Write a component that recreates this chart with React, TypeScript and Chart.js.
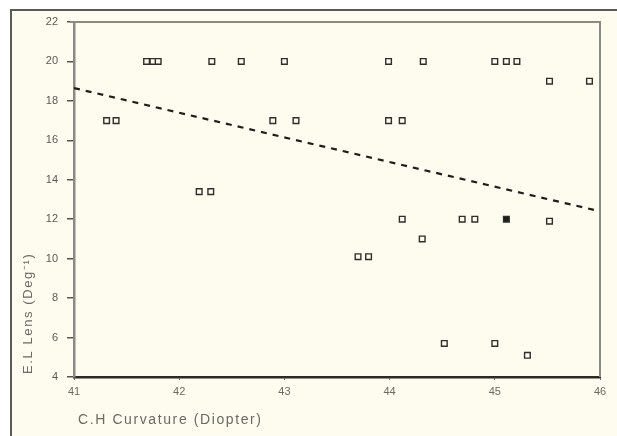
import React, { useEffect, useRef } from "react";
import { Chart, registerables } from "chart.js";

Chart.register(...registerables);

// Observed points: C.H curvature (diopter) vs lens value
const curvature = [
  41.69, 41.75, 41.8, 42.31, 42.59, 43.0, 43.99, 44.32, 45.0, 45.11, 45.21,
  45.52, 45.9,
  41.31, 41.4, 42.89, 43.11, 43.99, 44.12,
  42.19, 42.3,
  44.12, 44.69, 44.81, 45.11,
  45.52,
  44.31,
  43.7, 43.8,
  44.52, 45.0,
  45.31,
];
const lensValue = [
  20, 20, 20, 20, 20, 20, 20, 20, 20, 20, 20,
  19, 19,
  17, 17, 17, 17, 17, 17,
  13.4, 13.4,
  12, 12, 12, 12,
  11.9,
  11,
  10.1, 10.1,
  5.7, 5.7,
  5.1,
];
const filledFlags = [
  0, 0, 0, 0, 0, 0, 0, 0, 0, 0, 0,
  0, 0,
  0, 0, 0, 0, 0, 0,
  0, 0,
  0, 0, 0, 1,
  0,
  0,
  0, 0,
  0, 0,
  0,
];

// Regression (dashed) line endpoints
const trendX = [41, 46];
const trendY = [18.65, 12.4];

const xTicks = [41, 42, 43, 44, 45, 46];
const yTicks = [4, 6, 8, 10, 12, 14, 16, 18, 20, 22];

const xTitle = "C.H Curvature (Diopter)";
const yTitle = "E.L Lens (Deg\u207B\u00B9)";

const CREAM = "#fefcef";

export default function App() {
  const ref = useRef<HTMLCanvasElement | null>(null);

  useEffect(() => {
    document.body.style.margin = "0";
    const canvas = ref.current;
    if (!canvas) return;

    const framePlugin = {
      id: "framePlugin",
      afterDraw(chart: any) {
        const { ctx, chartArea } = chart;
        const { left, right, top, bottom } = chartArea;
        ctx.save();
        // top and right plot borders
        ctx.strokeStyle = "#8a8a86";
        ctx.lineWidth = 2;
        ctx.beginPath();
        ctx.moveTo(left - 4, top);
        ctx.lineTo(right, top);
        ctx.lineTo(right, bottom);
        ctx.stroke();
        // titles
        ctx.fillStyle = "#6a6a66";
        try { (ctx as any).letterSpacing = "1.6px"; } catch (e) {}
        ctx.font = "14px 'Liberation Sans', Arial, sans-serif";
        ctx.textAlign = "left";
        ctx.textBaseline = "middle";
        ctx.fillText(xTitle, left + 4, 420);
        ctx.translate(28, bottom - 3);
        ctx.rotate(-Math.PI / 2);
        ctx.font = "13px 'Liberation Sans', Arial, sans-serif";
        ctx.fillText(yTitle, 0, 0);
        ctx.restore();
      },
    };

    const pointData = curvature.map((x, i) => ({ x, y: lensValue[i] }));

    const chart = new Chart(canvas, {
      type: "scatter",
      data: {
        datasets: [
          {
            type: "line",
            data: trendX.map((x, i) => ({ x, y: trendY[i] })),
            borderColor: "#1e1e1e",
            borderWidth: 2.2,
            borderDash: [6, 6],
            pointRadius: 0,
            fill: false,
          } as any,
          {
            data: pointData,
            pointStyle: "rect",
            pointRadius: 4,
            borderWidth: 1.4,
            pointBorderColor: "#2e2e2c",
            pointBackgroundColor: filledFlags.map((f) => (f ? "#1e1e1e" : CREAM)),
          } as any,
        ],
      },
      options: {
        animation: false,
        responsive: false,
        maintainAspectRatio: false,
        layout: { padding: { left: 0, right: 17, top: 22, bottom: 0 } },
        plugins: {
          legend: { display: false },
          tooltip: { enabled: false },
          title: { display: false },
        },
        scales: {
          x: {
            type: "linear",
            min: 41,
            max: 46,
            afterFit: (s: any) => {
              s.height = 59;
            },
            afterBuildTicks: (s: any) => {
              s.ticks = xTicks.map((v) => ({ value: v }));
            },
            border: { display: true, color: "#2a2a28", width: 2.5 },
            grid: {
              drawOnChartArea: false,
              drawTicks: true,
              tickLength: 3,
              color: "#666",
            },
            ticks: {
              color: "#6a6a66",
              padding: 5,
              font: { family: "'Liberation Sans', Arial, sans-serif", size: 11 },
            },
          },
          y: {
            type: "linear",
            min: 4,
            max: 22,
            afterFit: (s: any) => {
              s.width = 74;
            },
            afterBuildTicks: (s: any) => {
              s.ticks = yTicks.map((v) => ({ value: v }));
            },
            border: { display: true, color: "#8a8a86", width: 2.5 },
            grid: {
              drawOnChartArea: false,
              drawTicks: true,
              tickLength: 7,
              color: "#555",
              lineWidth: 1.5,
            },
            ticks: {
              color: "#5a5a56",
              padding: 9,
              font: { family: "'Liberation Sans', Arial, sans-serif", size: 11 },
            },
          },
        },
      },
      plugins: [framePlugin],
    } as any);

    return () => {
      chart.destroy();
    };
  }, []);

  return (
    <div style={{ position: "relative", width: 617, height: 436, background: "#ffffff", overflow: "hidden" }}>
      <div
        style={{
          position: "absolute",
          left: 10,
          top: 9,
          width: 617,
          height: 436,
          background: CREAM,
          borderTop: "2px solid #5a5a58",
          borderLeft: "2px solid #5a5a58",
        }}
      />
      <canvas
        ref={ref}
        width={617}
        height={436}
        style={{ position: "absolute", left: 0, top: 0, width: 617, height: 436 }}
      />
    </div>
  );
}
